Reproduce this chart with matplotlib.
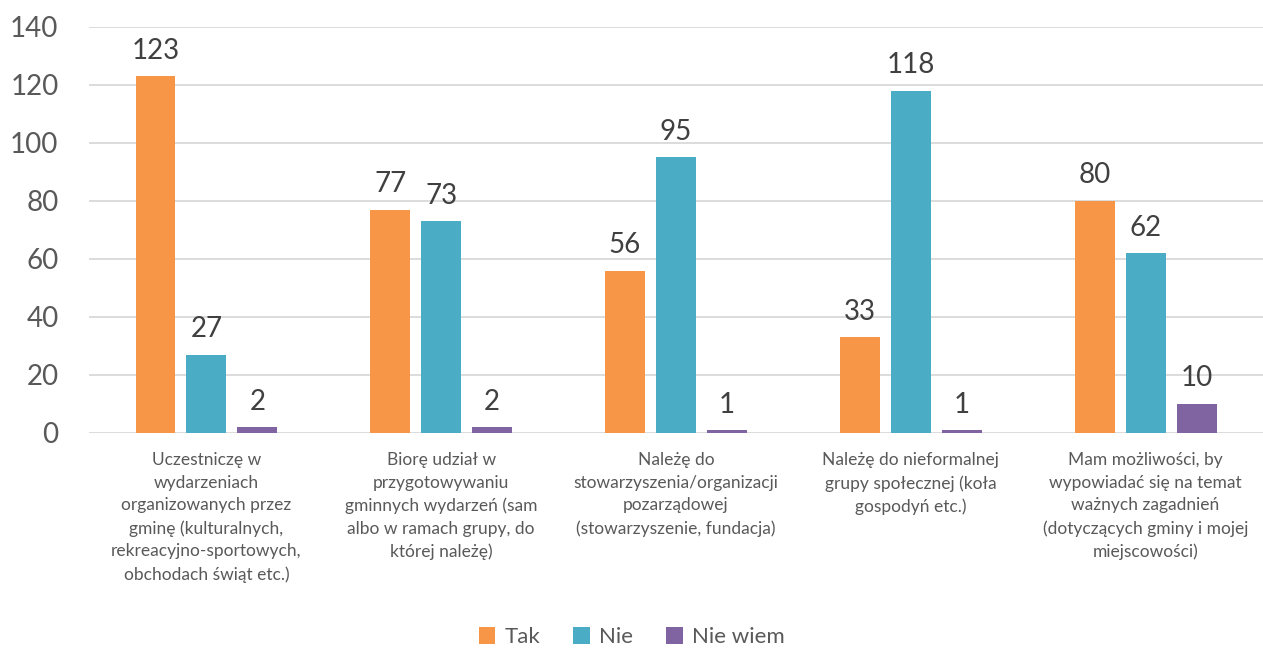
import matplotlib
matplotlib.use("Agg")
import matplotlib.pyplot as plt
import numpy as np

categories = [
    "Uczestniczę w\nwydarzeniach\norganizowanych przez\ngminę (kulturalnych,\nrekreacyjno-sportowych,\nobchodach świąt etc.)",
    "Biorę udział w\nprzygotowywaniu\ngminnych wydarzeń (sam\nalbo w ramach grupy, do\nktórej należę)",
    "Należę do\nstowarzyszenia/organizacji\npozarządowej\n(stowarzyszenie, fundacja)",
    "Należę do nieformalnej\ngrupy społecznej (koła\ngospodyń etc.)",
    "Mam możliwości, by\nwypowiadać się na temat\nważnych zagadnień\n(dotyczących gminy i mojej\nmiejscowości)",
]
series_names = ["Tak", "Nie", "Nie wiem"]
tak = [123, 77, 56, 33, 80]
nie = [27, 73, 95, 118, 62]
nie_wiem = [2, 2, 1, 1, 10]
colors = ["#F79646", "#4BACC6", "#8064A2"]

plt.rcParams['font.family'] = ['Lato', 'DejaVu Sans']

fig = plt.figure(figsize=(12.63, 6.53), dpi=100)
ax = fig.add_axes([0.0705, 0.337, 0.9295, 0.6217])

x = np.arange(len(categories))
slot = 0.217
width = 0.17
for i, (vals, name, c) in enumerate(zip([tak, nie, nie_wiem], series_names, colors)):
    pos = x + (i - 1) * slot
    ax.bar(pos, vals, width, color=c, label=name, zorder=3)
    for p, v in zip(pos, vals):
        ax.annotate(str(v), (p, v), xytext=(0, 9), textcoords="offset points",
                    ha="center", va="bottom", fontsize=20, color="#404040")

ax.set_xlim(-0.5, 4.5)
ax.set_ylim(0, 140)
ax.set_yticks(np.arange(0, 141, 20))
ax.yaxis.grid(True, color="#D9D9D9", linewidth=1.3, zorder=0)
for s in ax.spines.values():
    s.set_visible(False)
ax.tick_params(axis="both", length=0)
ax.tick_params(axis="y", labelsize=20, labelcolor="#595959", pad=22)
ax.set_xticks(x)
ax.set_xticklabels(categories, fontsize=12.5, color="#595959", linespacing=1.5)
ax.tick_params(axis="x", pad=14)

fig.legend(loc="lower center", bbox_to_anchor=(0.5, -0.022), ncol=3, frameon=False,
           fontsize=16, handlelength=0.75, handleheight=0.75, handletextpad=0.4,
           columnspacing=1.5, labelcolor="#595959")

fig.savefig("out.png", dpi=100)
